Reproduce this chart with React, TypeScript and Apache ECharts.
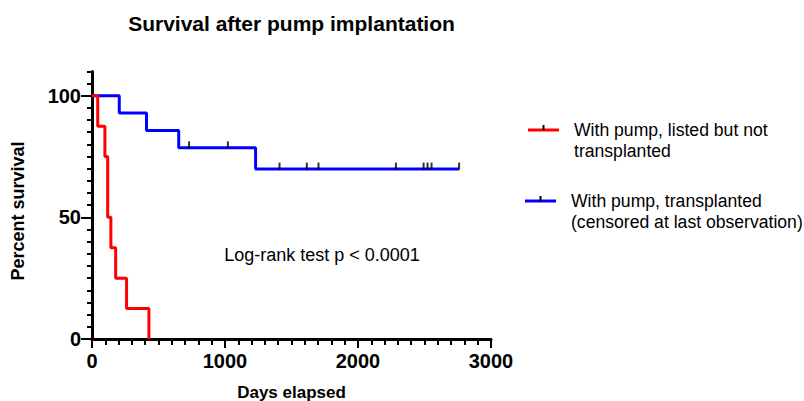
import React, { useEffect, useRef } from "react";
import * as echarts from "echarts";

const FONT = "'Liberation Sans', Arial, Helvetica, sans-serif";

const titleText = "Survival after pump implantation";
const xAxisName = "Days elapsed";
const yAxisName = "Percent survival";
const annotation = "Log-rank test p < 0.0001";

// Kaplan-Meier steps: [day, percent survival]
const notTransplantedSteps: [number, number][] = [
  [0, 100], [43, 87.5], [97, 75], [118, 50], [142, 37.5], [178, 25], [260, 12.5], [428, 0],
];
const transplantedSteps: [number, number][] = [
  [0, 100], [205, 92.86], [410, 85.71], [652, 78.57], [1230, 69.84], [2760, 69.84],
];
// censored observations (transplanted group)
const transplantedCensored: [number, number][] = [
  [730, 78.57], [1022, 78.57],
  [1410, 69.84], [1615, 69.84], [1703, 69.84], [2285, 69.84],
  [2493, 69.84], [2523, 69.84], [2553, 69.84], [2760, 69.84],
];

const seriesNames = ["With pump, listed but not\ntransplanted", "With pump, transplanted\n(censored at last observation)"];
const seriesColors = ["#ff0000", "#0000ff"];

const yLabelValues = [0, 50, 100];

export default function App() {
  const ref = useRef<HTMLDivElement>(null);
  useEffect(() => {
    if (!ref.current) return;
    const chart = echarts.init(ref.current, null, { renderer: "svg" });
    const legendItems: any[] = [];
    const legendPos = [
      { x1: 528, x2: 559, y: 130, tx: 574 },
      { x1: 525, x2: 556, y: 201, tx: 571 },
    ];
    legendPos.forEach((p, i) => {
      legendItems.push({
        type: "line",
        shape: { x1: p.x1, y1: p.y, x2: p.x2, y2: p.y },
        style: { stroke: seriesColors[i], lineWidth: 3 },
      });
      legendItems.push({
        type: "line",
        shape: { x1: (p.x1 + p.x2) / 2, y1: p.y - 5, x2: (p.x1 + p.x2) / 2, y2: p.y },
        style: { stroke: "#000", lineWidth: 2 },
      });
      legendItems.push({
        type: "text",
        x: p.tx,
        y: p.y - 11,
        style: {
          text: seriesNames[i],
          font: `17.6px ${FONT}`,
          fill: "#000",
          lineHeight: 21,
          verticalAlign: "top",
        },
      });
    });

    const option: any = {
      animation: false,
      backgroundColor: "#fff",
      grid: { left: 92, right: 313, top: 71.4, bottom: 62 },
      xAxis: {
        type: "value",
        min: 0,
        max: 3000,
        interval: 1000,
        axisLine: { show: true, lineStyle: { color: "#000", width: 3 } },
        axisTick: { show: true, length: 9, lineStyle: { color: "#000", width: 2 } },
        minorTick: { show: true, splitNumber: 10, length: 6, lineStyle: { color: "#000", width: 2 } },
        axisLabel: {
          color: "#000",
          fontFamily: FONT,
          fontWeight: "bold",
          fontSize: 20,
          margin: 12,
          formatter: (v: number) => String(v),
        },
        splitLine: { show: false },
        minorSplitLine: { show: false },
      },
      yAxis: [
        {
          type: "value",
          min: 0,
          max: 110,
          interval: 5,
          axisLine: { show: true, lineStyle: { color: "#000", width: 3 } },
          axisTick: { show: true, length: 5, lineStyle: { color: "#000", width: 2 } },
          axisLabel: { show: false },
          splitLine: { show: false },
        },
        {
          type: "value",
          min: 0,
          max: 110,
          interval: 5,
          position: "left",
          axisLine: { show: false },
          axisTick: { show: true, length: 11, customValues: yLabelValues, lineStyle: { color: "#000", width: 2 } },
          axisLabel: {
            show: true,
            customValues: yLabelValues,
            color: "#000",
            fontFamily: FONT,
            fontWeight: "bold",
            fontSize: 20,
            margin: 11,
            formatter: (v: number) => String(v),
          },
          splitLine: { show: false },
        },
      ],
      series: [
        {
          type: "line",
          name: seriesNames[0],
          step: "end",
          data: notTransplantedSteps,
          showSymbol: false,
          lineStyle: { color: seriesColors[0], width: 3 },
          itemStyle: { color: seriesColors[0] },
          z: 3,
        },
        {
          type: "line",
          name: seriesNames[1],
          step: "end",
          data: transplantedSteps,
          showSymbol: false,
          lineStyle: { color: seriesColors[1], width: 3 },
          itemStyle: { color: seriesColors[1] },
          z: 2,
        },
        {
          type: "scatter",
          data: transplantedCensored,
          symbol: "rect",
          symbolSize: [2, 7],
          symbolOffset: [0, -3],
          itemStyle: { color: "#000" },
          z: 4,
        },
      ],
      graphic: [
        {
          type: "text",
          x: 291.5,
          y: 23,
          style: {
            text: titleText,
            font: `bold 21px ${FONT}`,
            fill: "#000",
            align: "center",
            verticalAlign: "middle",
          },
        },
        {
          type: "text",
          x: 291.5,
          y: 383.5,
          style: {
            text: xAxisName,
            font: `bold 17px ${FONT}`,
            fill: "#000",
            align: "center",
            verticalAlign: "top",
          },
        },
        {
          type: "text",
          x: 18,
          y: 211,
          rotation: Math.PI / 2,
          style: {
            text: yAxisName,
            font: `bold 18px ${FONT}`,
            fill: "#000",
            align: "center",
            verticalAlign: "middle",
          },
        },
        {
          type: "text",
          x: 322,
          y: 255,
          style: {
            text: annotation,
            font: `18px ${FONT}`,
            fill: "#000",
            align: "center",
            verticalAlign: "middle",
          },
        },
        ...legendItems,
      ],
    };
    chart.setOption(option);
    return () => chart.dispose();
  }, []);
  return (
    <div
      ref={ref}
      style={{ position: "absolute", left: 0, top: 0, width: 804, height: 401 }}
    />
  );
}
